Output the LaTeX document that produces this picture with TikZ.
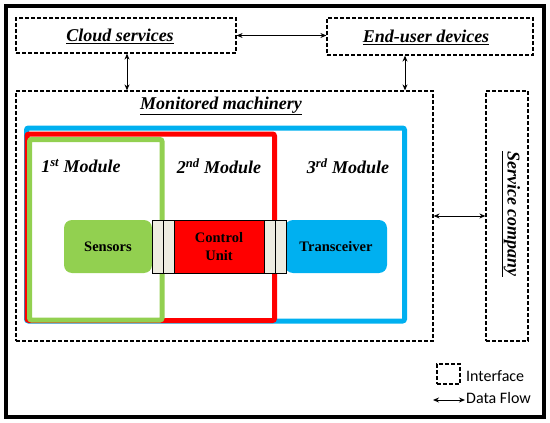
\documentclass[tikz,border=0pt]{standalone}
\usepackage{fontspec}
\setmainfont{Liberation Serif}
\newfontfamily\legendfont{Carlito}
\usetikzlibrary{arrows.meta}
\definecolor{mgreen}{HTML}{92D050}
\definecolor{mred}{HTML}{FF0000}
\definecolor{mblue}{HTML}{00B0F0}
\definecolor{beige}{HTML}{EEECE1}
\begin{document}
\begin{tikzpicture}[x=1pt,y=-1pt,
  iface/.style={draw=black, dash pattern=on 4pt off 2pt, line width=1.2pt, inner sep=0pt},
  title/.style={font=\rmfamily\fontsize{18}{20}\selectfont\bfseries\itshape, inner sep=0pt},
  flow/.style={{Stealth[length=6pt,width=5pt]}-{Stealth[length=6pt,width=5pt]}, line width=1pt},
  module/.style={line width=5pt, rounded corners=2pt},
  block/.style={rounded corners=8pt, font=\rmfamily\fontsize{14.5}{18}\selectfont\bfseries, align=center, inner sep=0pt, minimum height=53pt},
  conn/.style={draw=black, fill=beige, line width=0.8pt, minimum width=11pt, minimum height=53pt, inner sep=0pt},
  legend/.style={font=\legendfont\fontsize{16}{18}\selectfont, inner sep=0pt, anchor=west}
]
\useasboundingbox (0,0) rectangle (550,423);
% outer frame
\draw[line width=4pt] (5.5,5.5) rectangle (543.5,416.5);

% interface boxes
\node[iface, minimum width=220pt, minimum height=35pt] (cloud) at (126,35.5) {};
\node[iface, minimum width=206pt, minimum height=37pt] (enduser) at (430,36.5) {};
\node[iface, minimum width=417pt, minimum height=250pt] (mach) at (224.5,216) {};
\node[iface, minimum width=42pt, minimum height=250pt] (service) at (507,216) {};

\node[title] (cloudt) at (120,36) {\underline{Cloud services}};
\node[title] (endusert) at (426,37) {\underline{End-user devices}};
\node[title] (macht) at (221,106) {\underline{Monitored machinery}};
\node[title, rotate=-90] (servicet) at (511,214) {\underline{Service company}};

% data flows
\draw[flow] (cloud.east) -- (cloud.east -| enduser.west);
\draw[flow] ([xshift=1pt]cloud.south) -- ([xshift=1pt]cloud.south |- mach.north);
\draw[flow] ([xshift=-25pt]enduser.south) -- ([xshift=-25pt]enduser.south |- mach.north);
\draw[flow] (mach.east) -- (service.west);

% modules
\draw[module, mblue] (26.5,128) rectangle (404.5,321);
\draw[module, mred] (27,134) rectangle (274.5,320.5);
\draw[module, mgreen] (29.5,139.5) rectangle (162,320);

\node[title] (m1) at (81,166) {1\textsuperscript{st} Module};
\node[title] (m2) at (219,166) {2\textsuperscript{nd} Module};
\node[title] (m3) at (348,166) {3\textsuperscript{rd} Module};

% blocks
\node[block, fill=mgreen, minimum width=88pt] (sensors) at (108,246.5) {Sensors};
\node[block, fill=mblue, minimum width=102pt] (trans) at (336,246.5) {Transceiver};
\node[conn] (c1a) at (157.5,246.5) {};
\node[conn] (c1b) at (168.5,246.5) {};
\node[draw=black, line width=0.8pt, fill=mred, minimum width=90pt, minimum height=53pt, inner sep=0pt,
      font=\rmfamily\fontsize{14.5}{18}\selectfont\bfseries, align=center] (cu) at (219,246.5) {Control\\Unit};
\node[conn] (c2a) at (269.5,246.5) {};
\node[conn] (c2b) at (280.5,246.5) {};

% legend
\node[iface, minimum width=23pt, minimum height=20pt] (legbox) at (448.5,374) {};
\node[legend] (legi) at (466,376) {Interface};
\coordinate (dfa) at (433,400);
\coordinate (dfb) at (465,400);
\draw[flow] (dfa) -- (dfb);
\node[legend] (legd) at (466,398.5) {Data Flow};
\end{tikzpicture}
\end{document}
